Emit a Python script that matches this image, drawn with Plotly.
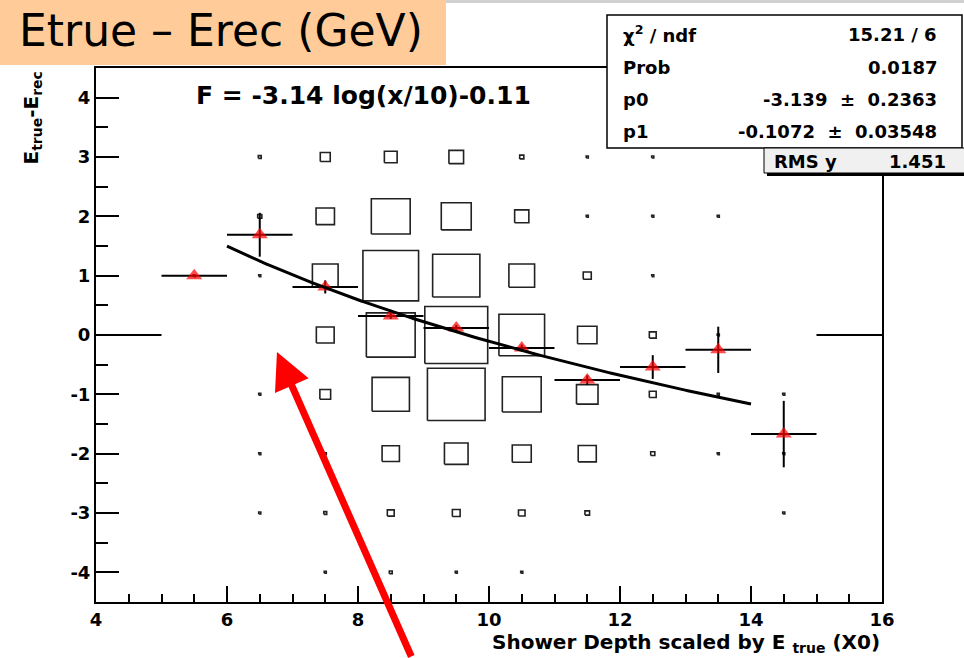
import numpy as np
import plotly.graph_objects as go

# ---------------- data ----------------
x_bins = [5.5, 6.5, 7.5, 8.5, 9.5, 10.5, 11.5, 12.5, 13.5, 14.5]
y_bins = [3, 2, 1, 0, -1, -2, -3, -4]
counts_y3 = [0, 2, 23, 38, 50, 4, 1, 1, 0, 0]
counts_y2 = [0, 4, 79, 352, 209, 47, 1, 1, 1, 0]
counts_y1 = [1, 1, 154, 722, 520, 154, 15, 1, 0, 0]
counts_y0 = [0, 0, 74, 555, 922, 486, 88, 11, 1, 0]
counts_ym1 = [0, 1, 27, 325, 775, 352, 108, 11, 1, 1]
counts_ym2 = [0, 1, 1, 70, 130, 84, 76, 4, 1, 1]
counts_ym3 = [0, 1, 2, 11, 14, 10, 5, 0, 0, 1]
counts_ym4 = [0, 0, 1, 2, 1, 1, 0, 0, 0, 0]
count_rows = [counts_y3, counts_y2, counts_y1, counts_y0,
              counts_ym1, counts_ym2, counts_ym3, counts_ym4]
count_norm = 1000.0

prof_x = [4.5, 5.5, 6.5, 7.5, 8.5, 9.5, 10.5, 11.5, 12.5, 13.5, 14.5, 15.5]
prof_y = [0.0, 1.0, 1.69, 0.81, 0.32, 0.12, -0.22, -0.76, -0.54, -0.25, -1.67, 0.0]
prof_ey = [0.0, 0.0, 0.37, 0.11, 0.05, 0.05, 0.06, 0.08, 0.20, 0.39, 0.56, 0.0]
prof_ex = [0.5] * len(prof_x)
prof_has_entries = [False] + [True] * 10 + [False]

fit_p0 = -3.139
fit_p1 = -0.1072
fit_xmin, fit_xmax = 6.0, 14.0

stat_labels = ["χ<sup>2</sup> / ndf", "Prob", "p0", "p1"]
stat_values = ["15.21 / 6", "0.0187", "-3.139 \u00b1 0.2363", "-0.1072 \u00b1 0.03548"]
rms_label, rms_value = "RMS y", "1.451"

x_ticks = [4, 6, 8, 10, 12, 14, 16]
y_ticks = [-4, -3, -2, -1, 0, 1, 2, 3, 4]

# ---------------- layout geometry (pixels) ----------------
W, H = 964, 658
L, R, T, B = 96, 882, 68, 602


def px(x):
    return (x - L) / (R - L)


def py(y):
    return (B - y) / (B - T)


BOLD = dict(family="DejaVu Sans", weight="bold", color="black")

fig = go.Figure()

# boxes
bx, by = [], []
for yc, row in zip(y_bins, count_rows):
    for xc, c in zip(x_bins, row):
        if c <= 0:
            continue
        f = np.sqrt(c / count_norm)
        hw, hh = 0.5 * f, 0.5 * f
        bx += [xc - hw, xc + hw, xc + hw, xc - hw, xc - hw, None]
        by += [yc - hh, yc - hh, yc + hh, yc + hh, yc - hh, None]
fig.add_trace(go.Scatter(x=bx, y=by, mode="lines",
                         line=dict(color="#222222", width=1.6),
                         hoverinfo="skip", showlegend=False))

# profile points
fig.add_trace(go.Scatter(
    x=prof_x, y=prof_y, mode="markers",
    marker=dict(symbol="triangle-up", color="#ff0000",
                size=[14 if h else 0 for h in prof_has_entries],
                line=dict(width=0)),
    error_x=dict(type="data", array=prof_ex, color="black", thickness=2, width=0),
    error_y=dict(type="data", array=prof_ey, color="black", thickness=2, width=0),
    showlegend=False))

# fit curve
fx = np.linspace(fit_xmin, fit_xmax, 200)
fy = fit_p0 * np.log(fx / 10.0) + fit_p1
fig.add_trace(go.Scatter(x=fx, y=fy, mode="lines",
                         line=dict(color="black", width=3),
                         showlegend=False, hoverinfo="skip"))

shapes = []
annotations = []

# title box
shapes.append(dict(type="rect", xref="paper", yref="paper",
                   x0=px(-2), x1=px(446), y0=py(65), y1=py(-2),
                   fillcolor="#ffcc99", line=dict(width=0), layer="above"))
shapes.append(dict(type="rect", xref="paper", yref="paper",
                   x0=px(446), x1=px(970), y0=py(3), y1=py(-2),
                   fillcolor="#d0d0d0", line=dict(width=0), layer="above"))
annotations.append(dict(xref="paper", yref="paper", x=px(17), y=py(30),
                        xanchor="left", yanchor="middle", showarrow=False,
                        text="Etrue \u2013 Erec (GeV)",
                        font=dict(family="DejaVu Sans", size=44, color="black")))

# stats box
shapes.append(dict(type="rect", xref="paper", yref="paper",
                   x0=px(607), x1=px(962), y0=py(148), y1=py(15),
                   fillcolor="white", line=dict(color="black", width=1.5),
                   layer="above"))
row_centers = [34, 67, 99.5, 132]
for lab, val, yc in zip(stat_labels, stat_values, row_centers):
    annotations.append(dict(xref="paper", yref="paper", x=px(621), y=py(yc),
                            xanchor="left", yanchor="middle", showarrow=False,
                            text=lab, font=dict(size=18, **BOLD)))
    annotations.append(dict(xref="paper", yref="paper", x=px(939), y=py(yc),
                            xanchor="right", yanchor="middle", showarrow=False,
                            text=val.replace(" \u00b1 ", "  \u00b1  "),
                            font=dict(size=18, **BOLD)))
# RMS box with shadow
shapes.append(dict(type="rect", xref="paper", yref="paper",
                   x0=px(767), x1=px(975), y0=py(176), y1=py(151),
                   fillcolor="black", line=dict(width=0), layer="above"))
shapes.append(dict(type="rect", xref="paper", yref="paper",
                   x0=px(764), x1=px(975), y0=py(173), y1=py(148),
                   fillcolor="#f0f0f0", line=dict(color="black", width=1),
                   layer="above"))
annotations.append(dict(xref="paper", yref="paper", x=px(772), y=py(161),
                        xanchor="left", yanchor="middle", showarrow=False,
                        text=rms_label, font=dict(size=18, **BOLD)))
annotations.append(dict(xref="paper", yref="paper", x=px(948), y=py(161),
                        xanchor="right", yanchor="middle", showarrow=False,
                        text=rms_value, font=dict(size=18, **BOLD)))

# fit formula text
annotations.append(dict(xref="paper", yref="paper", x=px(194), y=py(95),
                        xanchor="left", yanchor="middle", showarrow=False,
                        text="F = -3.14 log(x/10)-0.11",
                        font=dict(size=25, **BOLD)))

# axis titles
annotations.append(dict(xref="paper", yref="paper", x=px(31), y=py(70),
                        xanchor="center", yanchor="top", showarrow=False,
                        textangle=-90,
                        text="E<sub>true</sub>-E<sub>rec</sub>",
                        font=dict(size=20, **BOLD)))
annotations.append(dict(xref="paper", yref="paper", x=px(882), y=py(643),
                        xanchor="right", yanchor="middle", showarrow=False,
                        text="Shower Depth scaled by E <sub>true</sub> (X0)",
                        font=dict(size=20, **BOLD)))

# red arrow
annotations.append(dict(xref="x", yref="y", x=6.763, y=-0.287,
                        ax=135, ay=310, axref="pixel", ayref="pixel",
                        text="", showarrow=True, arrowhead=2, arrowsize=1.05,
                        arrowwidth=7, arrowcolor="#ff0000", standoff=0,
                        startstandoff=0))

axis_common = dict(showgrid=False, zeroline=False, showline=True, mirror=True,
                   linecolor="black", linewidth=2, ticks="inside",
                   tickcolor="black", tickwidth=1.5,
                   tickfont=dict(size=18, **BOLD))

fig.update_layout(
    width=W, height=H,
    margin=dict(l=L, r=W - R, t=T, b=H - B, pad=0),
    paper_bgcolor="white", plot_bgcolor="white",
    xaxis=dict(range=[4, 16], tickmode="array", tickvals=x_ticks,
               ticktext=[str(v) for v in x_ticks], ticklen=16,
               minor=dict(dtick=0.5, tick0=4, ticklen=8, ticks="inside",
                          tickcolor="black", tickwidth=1.5),
               **axis_common),
    yaxis=dict(range=[-4.5, 4.5], tickmode="array", tickvals=y_ticks,
               ticktext=[str(v) for v in y_ticks], ticklen=23,
               minor=dict(dtick=0.5, tick0=0, ticklen=12, ticks="inside",
                          tickcolor="black", tickwidth=1.5),
               **axis_common),
    shapes=shapes, annotations=annotations,
    showlegend=False,
)

fig.write_html("out.html",
               config={"displayModeBar": False},
               post_script="document.body.style.margin='0px';"
                           "document.body.style.overflow='hidden';")
